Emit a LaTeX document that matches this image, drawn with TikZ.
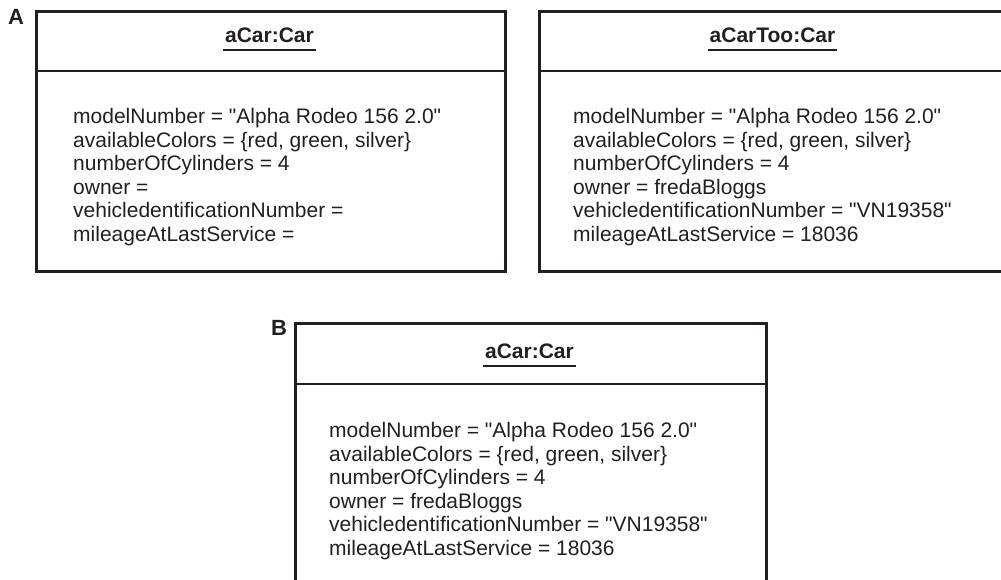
\documentclass[tikz,border=0pt]{standalone}
\usepackage{fontspec}
\newfontfamily\hv{Liberation Sans}
\definecolor{ink}{HTML}{231F20}
\begin{document}
\begin{tikzpicture}[x=1pt,y=1pt,
  objbox/.style={draw=ink, line width=2.8pt, rectangle, inner sep=0pt, anchor=north west},
  sepline/.style={draw=ink, line width=2.6pt},
  title/.style={font=\hv\fontsize{21}{23.5}\selectfont\bfseries, text=ink, inner xsep=1.5pt, inner ysep=0pt, anchor=base},
  uline/.style={draw=ink, line width=2.2pt},
  attrs/.style={font=\hv\fontsize{21}{23.5}\selectfont, text=ink, align=left, inner sep=0pt, anchor=north west},
  tag/.style={font=\hv\fontsize{22}{24}\selectfont\bfseries, text=ink, inner sep=0pt, anchor=base west}
]
\useasboundingbox (0,0) rectangle (1001,580);

% Box A1
\node[objbox, minimum width=469pt, minimum height=260pt] (a1) at (35,570) {};
\coordinate (h1) at (0,509);
\draw[sepline] (a1.west |- h1) -- (a1.east |- h1);
\node[title] (t1) at (269.5,537) {aCar:Car};
\draw[uline] ([yshift=-7pt]t1.base west) -- ([yshift=-7pt]t1.base east);
\node[attrs] (x1) at (73,471.8) {modelNumber = "Alpha Rodeo 156 2.0"\\
availableColors = \{red, green, silver\}\\
numberOfCylinders = 4\\
owner =\\
vehicledentificationNumber =\\
mileageAtLastService =};
\node[tag] (la) at (8,555) {A};

% Box A2
\node[objbox, minimum width=469pt, minimum height=260pt] (a2) at (538,570) {};
\draw[sepline] (a2.west |- h1) -- (a2.east |- h1);
\node[title] (t2) at (772.5,537) {aCarToo:Car};
\draw[uline] ([yshift=-7pt]t2.base west) -- ([yshift=-7pt]t2.base east);
\node[attrs] (x2) at (573,471.8) {modelNumber = "Alpha Rodeo 156 2.0"\\
availableColors = \{red, green, silver\}\\
numberOfCylinders = 4\\
owner = fredaBloggs\\
vehicledentificationNumber = "VN19358"\\
mileageAtLastService = 18036};

% Box B
\node[objbox, minimum width=471pt, minimum height=290pt] (b) at (294,258) {};
\coordinate (h2) at (0,196);
\draw[sepline] (b.west |- h2) -- (b.east |- h2);
\node[title] (t3) at (529.5,221) {aCar:Car};
\draw[uline] ([yshift=-7pt]t3.base west) -- ([yshift=-7pt]t3.base east);
\node[attrs] (x3) at (329,157.5) {modelNumber = "Alpha Rodeo 156 2.0"\\
availableColors = \{red, green, silver\}\\
numberOfCylinders = 4\\
owner = fredaBloggs\\
vehicledentificationNumber = "VN19358"\\
mileageAtLastService = 18036};
\node[tag] (lb) at (271,244) {B};
\end{tikzpicture}
\end{document}
